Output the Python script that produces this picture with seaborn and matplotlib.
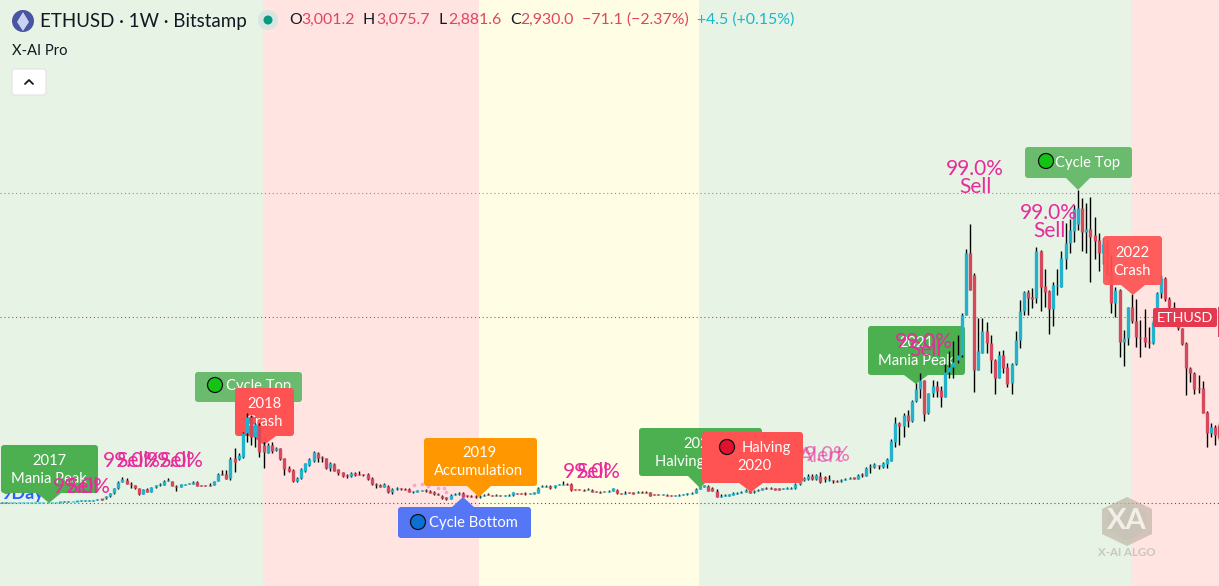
import numpy as np
import pandas as pd
import seaborn as sns
import matplotlib
matplotlib.use("Agg")
import matplotlib.pyplot as plt
from matplotlib.patches import FancyBboxPatch, Polygon, Circle, Rectangle
from matplotlib.transforms import Affine2D

# ---------- weekly ETHUSD candles (USD) ----------
opens = [
 8,8,8,9,9,10,10,11,11,11,12,12,12,13,14,18,22,26,31,35,37,38,38,42,63,
 73,110,152,231,336,362,299,283,231,141,220,178,247,283,283,346,346,273,257,283,
 299,299,336,283,283,283,283,346,457,457,
 388,703,687,719,1107,1360,1044,1228,913,792,913,834,861,703,546,520,352,388,504,598,
 666,782,719,703,546,614,530,483,441,425,472,457,446,457,399,294,283,257,273,168,
 215,226,220,220,173,183,189,205,194,
 179,142,111,90,63,126,137,152,121,111,111,90,116,137,121,121,121,116,121,121,
 152,152,163,142,152,163,252,252,268,247,284,294,300,300,210,210,205,210,205,179,
 174,174,184,189,
 205,152,147,163,163,158,168,168,168,137,137,132,126,121,116,121,126,137,142,163,
 221,258,273,231,195,100,111,116,132,142,163,179,205,168,189,205,231,231,221,221,
 221,231,220,
 231,294,362,372,430,372,425,404,362,357,346,341,367,383,399,378,446,430,567,567,
 593,572,614,667,966,1255,1218,1386,1296,1611,1795,1937,1412,1727,1842,
 1780,1675,2068,2137,2252,2331,2961,3932,3591,2095,2357,2709,2515,2252,1974,2331,2148,1885,2190,2567,
 3030,3329,3234,3224,3975,3418,3339,3056,3418,3407,3843,4090,4290,
 4389,4641,4274,4310,4221,4143,3933,4080,3644,3156,3355,2541,2594,3082,2867,2610,2620,2541,2515,2856,
 3303,3539,3208,3092,3040,2751,2526,2132,2053,1806,1806,1439,1108,1203,1229]
closes = [
 8,8,9,9,10,10,11,11,11,12,12,12,13,14,18,22,26,31,35,37,38,38,42,63,60,
 110,152,231,336,372,299,283,231,141,220,178,247,283,290,346,362,273,257,294,299,
 305,336,273,273,275,278,346,457,441,383,
 687,651,756,1107,1360,1034,1244,808,808,913,824,861,687,530,504,346,399,530,624,687,
 798,703,714,546,624,509,467,425,436,477,436,446,441,378,299,289,257,294,173,215,
 241,220,215,178,183,194,194,189,162,
 142,137,74,58,126,142,152,100,111,105,90,116,126,126,116,126,116,121,126,168,
 147,147,137,147,163,242,258,258,231,284,300,300,284,205,205,205,200,216,179,174,
 168,184,189,231,
 152,142,152,158,152,163,163,158,116,132,132,137,121,116,121,126,137,152,163,221,
 273,278,195,189,100,111,116,132,152,152,179,205,163,195,205,231,226,226,216,216,
 231,236,231,
 299,362,388,430,372,441,325,372,383,346,341,367,383,399,388,446,441,556,572,609,
 577,635,688,981,1255,1218,1386,1296,1611,1795,1937,1401,1727,1842,1769,
 1675,2068,2147,2226,2331,2961,3932,3354,2095,2399,2709,2515,2252,1974,2331,2121,1875,2190,2567,3030,
 3329,3234,3224,3975,3397,3329,3056,3434,3428,3854,4090,4300,4631,
 4641,4274,4310,4185,4132,3933,4080,3618,3156,3355,2541,2594,3082,2867,2610,2599,2541,2515,2856,3303,
 3539,3208,3092,3040,2751,2505,2132,2042,1796,1796,1423,1108,1192,1071,1019]
highs = [
 9,9,10,10,11,11,12,12,12,13,13,13,14,15,19,24,28,34,38,42,42,42,46,68,70,
 118,165,240,345,404,388,336,290,235,225,230,252,290,310,355,388,350,278,300,305,
 310,340,340,290,288,310,352,465,520,520,
 730,861,782,1123,1412,1386,1255,1255,966,940,966,887,871,714,583,530,414,546,635,703,
 819,798,740,714,651,624,541,493,457,493,483,509,457,467,409,310,294,310,283,231,
 257,241,231,231,194,205,205,215,205,
 195,152,121,100,137,163,168,168,132,121,121,121,137,163,132,137,132,132,137,174,
 163,163,174,158,174,252,284,284,278,289,305,352,320,310,226,226,221,231,216,189,
 184,195,200,242,
 216,163,184,174,179,195,184,184,179,147,147,147,137,132,132,137,147,163,174,231,
 284,289,284,258,216,142,137,142,174,168,195,216,216,205,221,242,258,247,236,236,
 242,247,247,
 310,415,415,451,451,457,493,425,441,362,357,372,393,409,415,457,477,567,609,624,
 598,651,703,1008,1349,1281,1422,1464,1622,1885,2042,1937,1727,1937,1927,
 1843,2189,2399,2557,2646,2987,3995,4394,3617,2908,2908,2856,2646,2262,2399,2410,2200,2200,2715,3198,
 3345,3355,3381,4027,3985,3686,3355,3486,3686,3975,4405,4473,4694,
 4930,4799,4720,4815,4500,4248,4169,4143,3906,3408,3366,2725,3092,3292,3208,2882,3050,2777,2882,3329,
 3591,3555,3240,3171,3040,2762,2541,2148,2069,2016,1922,1449,1255,1229,1255]
lows = [
 7,7,8,8,9,9,10,10,10,11,11,11,12,12,13,17,21,25,30,33,35,35,37,41,55,
 60,100,140,225,330,295,231,225,130,135,170,172,240,275,278,340,268,194,250,278,
 294,294,268,268,270,265,278,340,435,378,
 362,493,677,703,966,913,887,730,546,782,792,819,677,441,493,336,336,378,493,588,
 640,640,651,535,509,499,441,404,399,414,425,436,430,367,289,241,247,247,162,141,
 205,205,205,168,162,178,183,178,152,
 132,126,69,47,58,121,132,90,100,100,79,84,111,121,111,116,111,111,116,116,
 142,142,132,137,147,158,247,247,226,242,278,289,278,195,200,200,195,205,174,168,
 163,168,179,184,
 147,137,142,152,147,152,158,152,111,126,126,126,116,111,111,116,121,132,137,158,
 216,252,189,184,90,95,105,111,126,137,158,174,158,163,184,200,221,221,210,210,
 216,226,216,
 220,283,351,362,362,362,310,336,341,310,330,336,362,372,372,372,415,425,478,556,
 530,546,546,667,887,913,1044,1202,1281,1596,1648,1296,1401,1674,1674,
 1517,1675,1963,1963,2200,2304,2961,3354,1753,2095,2357,2357,2052,1711,1974,2042,1833,1717,2174,2436,
 2961,2961,3066,3145,3030,3092,2662,2788,3276,3397,3686,3932,4116,
 4300,3969,3932,3486,3843,3654,3765,3591,2998,2935,2305,2163,2489,2830,2452,2305,2452,2436,2505,2856,
 3224,3182,3040,2961,2725,2489,1701,1911,1712,1727,1413,888,1045,914,993]

# ---------- levels, market regimes and side markers ----------
levels = [4882, 2930, 0]
level_colors = ["#8A9A8A", "#D9404F", "#555555"]
regime_edges = [-0.5, 62.8, 114.8, 167.8, 271.7, 293.0]
regime_colors = ["#E6F3E5", "#FFE4E2", "#FFFDE3", "#E6F3E5", "#FFE4E2"]
marker_weeks = [99.2, 101.1, 102.6, 105, 106.4, 106.9]
marker_prices = [283, 299, 268, 236, 236, 173]

assert len(opens) == len(closes) == len(highs) == len(lows), (len(opens), len(closes), len(highs), len(lows))
N = len(closes)

UP, DOWN = "#22B2CC", "#D6485C"
sns.set_theme(style="white")
plt.rcParams["font.family"] = ["Lato", "DejaVu Sans"]

fig = plt.figure(figsize=(12.19, 5.86), dpi=100, facecolor="white")
ax = fig.add_axes([0, 0, 1, 1])
px_x0 = 1219.3 - 4.155 * (N - 1)
ax.set_xlim(-px_x0 / 4.155, (1219 - px_x0) / 4.155)
ax.set_ylim(-83 * 15.75, 503 * 15.75)
ax.axis("off")
# pixel frame for the interface furniture (labels, header)
PX = Affine2D().scale(1 / 1219, -1 / 586).translate(0, 1) + fig.transFigure

for a, b, c in zip(regime_edges[:-1], regime_edges[1:], regime_colors):
    ax.axvspan(a, b, color=c, lw=0, zorder=0)
for lv, c in zip(levels, level_colors):
    ax.axhline(lv, color=c, lw=0.8, ls=(0, (1, 2.5)), zorder=1)

# ---------- candles through seaborn ----------
weeks = np.arange(N)
o, c, h, l = map(np.asarray, (opens, closes, highs, lows))
direction = np.where(c >= o, "up", "down")
wicks = pd.DataFrame({"week": np.r_[weeks, weeks], "price": np.r_[l, h],
                      "candle": np.r_[weeks, weeks]})
mid = (o + c) / 2
half = np.maximum(np.abs(c - o) / 2, 10)
bodies = pd.DataFrame({"week": np.r_[weeks, weeks], "price": np.r_[mid - half, mid + half],
                       "candle": np.r_[weeks, weeks],
                       "dir": np.r_[direction, direction]})
sns.lineplot(data=wicks, x="week", y="price", units="candle", estimator=None, color="#000000",
             lw=1.0, solid_capstyle="butt", legend=False, ax=ax, zorder=3, sort=False)
sns.lineplot(data=bodies, x="week", y="price", units="candle", hue="dir", estimator=None,
             palette={"up": UP, "down": DOWN}, lw=2.4, solid_capstyle="butt", legend=False,
             ax=ax, zorder=3.1, sort=False)
sns.scatterplot(x=marker_weeks, y=marker_prices, color="#F7A6CC", s=7, linewidth=0, ax=ax, zorder=3.2)
ax.set_xlabel(""); ax.set_ylabel("")


# ---------- labels ----------
def callout(x0, y0, x1, y1, color, tip, base, z, alpha=1.0):
    ax.add_patch(FancyBboxPatch((x0, y0), x1 - x0, y1 - y0, boxstyle="round,pad=0,rounding_size=3",
                                fc=color, ec="none", transform=PX, zorder=z, alpha=alpha, clip_on=False))
    edge = y1 if tip[1] > y1 else y0
    ax.add_patch(Polygon([(base[0], edge), (base[1], edge), tip], closed=True, fc=color, ec="none",
                         transform=PX, zorder=z, alpha=alpha))


def label(x, y, s, size=10.6, color="#FFFFFF", z=5, ha="center", **kw):
    ax.text(x, y + 1, s, transform=PX, fontsize=size, color=color, ha=ha, va="center", zorder=z, **kw)


def dot(x, y, color, z, r=7.5):
    ax.add_patch(Circle((x, y), r, fc=color, ec="#111111", lw=0.9, transform=PX, zorder=z))


PINK = "#E92A9C"
def pink(x, y, s, z, size=15, alpha=1.0):
    ax.text(x, y, s, transform=PX, fontsize=size, color=PINK, ha="center", va="center", zorder=z, alpha=alpha)


# left cluster
label(1, 493, "9Day", size=13, color="#2962FF", z=2, ha="left", weight="bold")
callout(195, 372, 302, 402, "#6ABB6E", (248, 412), (238, 258), 2)
dot(215, 385, "#14C414", 2.1)
label(259, 385, "Cycle Top", z=2.1)
callout(235, 388, 294, 436, "#FF5252", (264, 445), (252, 276), 2.5)
label(264, 403, "2018", z=2.6)
label(264, 421, "Crash", z=2.6)
callout(1, 445, 98, 493, "#4CAF50", (49, 503), (37, 61), 4)
label(49, 460, "2017", z=4.1)
label(49, 478, "Mania Peak", z=4.1)
pink(82, 487, "99.0%", 4.5); pink(82, 487, "Sell", 4.5)
pink(132, 461, "99.0%", 4.5); pink(132, 461, "Sell", 4.5)
pink(175, 461, "99.0%", 4.5); pink(175, 461, "Sell", 4.5)

# middle cluster
callout(424, 438, 537, 486, "#FF9800", (479, 497), (467, 491), 4)
label(479, 452, "2019", z=4.1)
label(479, 470, "Accumulation", z=4.1)
callout(398, 507, 531, 538, "#5577F6", (463, 497), (452, 474), 4)
dot(418, 522, "#0B6FD6", 4.1)
label(473, 522, "Cycle Bottom", z=4.1)
pink(592, 472, "99.0%", 4.5); pink(592, 472, "Sell", 4.5)
callout(639, 428, 762, 476, "#4CAF50", (700, 488), (688, 712), 4)
label(700, 443, "2020", z=4.1)
label(700, 461, "Halving Cycle", z=4.1)
pink(822, 455, "99.0%", 4.3, alpha=0.6); pink(822, 456, "Alert", 4.3, alpha=0.6)
callout(702, 432, 803, 483, "#FF5252", (751, 492), (739, 763), 4.6)
dot(727, 447, "#E01030", 4.7)
label(766, 447, "Halving", z=4.7)
label(754, 465, "2020", z=4.7)

# right cluster
callout(868, 326, 965, 375, "#4CAF50", (916, 384), (904, 928), 2.5)
label(916, 342, "2021", z=2.6)
label(916, 360, "Mania Peak", z=2.6)
pink(924, 342, "99.0%", 4.5); pink(925, 350, "Sell", 4.5)
pink(975, 169, "99.0%", 4.5); pink(975, 187, "Sell", 4.5)
pink(1049, 213, "99.0%", 4.5); pink(1049, 231, "Sell", 4.5)
callout(1025, 147, 1132, 178, "#6ABB6E", (1078, 190), (1066, 1090), 4)
dot(1046, 161, "#14C414", 4.1)
label(1088, 162, "Cycle Top", z=4.1)
callout(1103, 236, 1162, 285, "#FF5252", (1133, 295), (1121, 1145), 4, alpha=0.93)
label(1132, 252, "2022", z=4.1)
label(1132, 270, "Crash", z=4.1)
ax.add_patch(FancyBboxPatch((1153, 308), 64, 19, boxstyle="round,pad=0,rounding_size=2", fc="#E53950",
                            ec="none", transform=PX, zorder=5))
label(1185, 317, "ETHUSD", size=10.3, z=5.1)
ax.add_patch(Rectangle((1217.6, 307), 1.6, 30, fc="#D6485C", ec="none", transform=PX, zorder=5))

# ---------- watermark ----------
hex_pts = [(1127, 497), (1152, 509), (1152, 534), (1127, 546), (1102, 534), (1102, 509)]
ax.add_patch(Polygon(hex_pts, closed=True, fc="#BDB2A4", ec="none", alpha=0.65, transform=PX, zorder=1.5))
ax.add_patch(Polygon([(1127, 503), (1146, 513), (1146, 530), (1127, 541), (1108, 530), (1108, 513)],
                     closed=True, fc="#C9C3B8", ec="none", alpha=0.7, transform=PX, zorder=1.6))
label(1127, 520, "XA", size=21, color="#F2EFE8", z=1.7, weight="bold")
label(1127, 552, "X-AI ALGO", size=8.3, color="#C8C8C0", z=1.7, weight="bold")

# ---------- header ----------
ax.add_patch(Circle((23, 21), 11, fc="#4A55A2", ec="none", transform=PX, zorder=6))
ax.add_patch(Polygon([(23, 12), (29, 22), (23, 31), (17, 22)], closed=True, fc="#C9D2F2", ec="none",
                     transform=PX, zorder=6.1))
label(40, 21, "ETHUSD · 1W · Bitstamp", size=13.5, color="#131722", ha="left", z=6)
ax.add_patch(Circle((268, 20), 10, fc="#D9E5E0", ec="none", transform=PX, zorder=6))
ax.add_patch(Circle((268, 20), 4.5, fc="#089981", ec="none", transform=PX, zorder=6.1))
RED, TEAL, INK = "#E0455F", "#18B7CE", "#131722"
header = [(289, "O", INK), (301, "3,001.2", RED), (363, "H", INK), (376, "3,075.7", RED),
          (438, "L", INK), (448, "2,881.6", RED), (510, "C", INK), (520, "2,930.0", RED),
          (582, "−71.1 (−2.37%)", RED), (697, "+4.5 (+0.15%)", TEAL)]
for x, s, col in header:
    label(x, 19, s, size=11.4, color=col, ha="left", z=6)
label(12, 50, "X-AI Pro", size=10.6, color=INK, ha="left", z=6)
ax.add_patch(FancyBboxPatch((12, 69), 34, 26, boxstyle="round,pad=0,rounding_size=3", fc="#FFFFFF",
                            ec="#E3E3E3", lw=0.8, transform=PX, zorder=6))
ax.plot([25, 29, 33], [84, 80, 84], color="#131722", lw=1.3, transform=PX, zorder=6.1)

fig.savefig("out.png", dpi=100, facecolor="white")
